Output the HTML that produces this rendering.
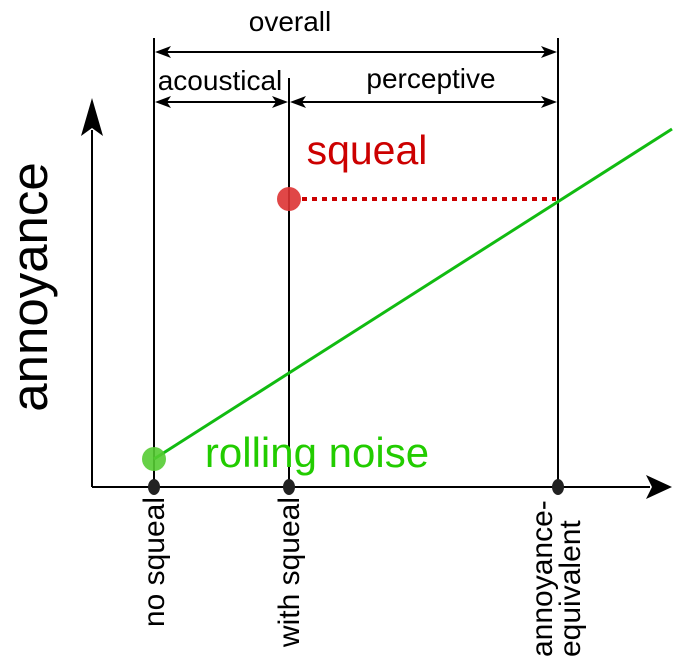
<!DOCTYPE html>
<html><head><style>html,body{margin:0;padding:0;background:#fff;}svg{display:block}</style></head>
<body>
<svg width="700" height="666" viewBox="0 0 700 666" xmlns="http://www.w3.org/2000/svg" font-family="Liberation Sans, Arial, sans-serif">
<g stroke="#000" stroke-width="2" fill="none">
<line x1="92" y1="487" x2="92" y2="130"/>
<line x1="92" y1="487" x2="650" y2="487"/>
<line x1="154" y1="38" x2="154" y2="487"/>
<line x1="289" y1="78" x2="289" y2="487"/>
<line x1="558" y1="38" x2="558" y2="487"/>
<line x1="160" y1="52" x2="552" y2="52"/>
<line x1="160" y1="102" x2="283" y2="102"/>
<line x1="295" y1="102" x2="552" y2="102"/>
</g>
<g fill="#000">
<polygon points="92,98 81,136 92,128 103,136"/>
<polygon points="672,487 646,475 652,487 646,499"/>
<polygon points="155,52 171,46 167,52 171,58"/>
<polygon points="557,52 541,46 545,52 541,58"/>
<polygon points="155,102 171,96 167,102 171,108"/>
<polygon points="288,102 272,96 276,102 272,108"/>
<polygon points="290,102 306,96 302,102 306,108"/>
<polygon points="557,102 541,96 545,102 541,108"/>
</g>
<line x1="154" y1="459" x2="672" y2="129" stroke="#11bb11" stroke-width="3"/>
<line x1="302" y1="199" x2="556" y2="199" stroke="#cc0000" stroke-width="4" stroke-dasharray="5,5"/>
<circle cx="289" cy="199" r="12" fill="#dd3333" opacity="0.9"/>
<circle cx="154" cy="459" r="12" fill="#55cc33" opacity="0.9"/>
<g fill="#222">
<ellipse cx="154" cy="487" rx="6" ry="8"/>
<ellipse cx="289" cy="487" rx="6" ry="8"/>
<ellipse cx="558" cy="487" rx="6" ry="8"/>
</g>
<g font-size="28" fill="#000">
<text x="290" y="31" text-anchor="middle">overall</text>
<text x="220" y="90" text-anchor="middle">acoustical</text>
<text x="431" y="88" text-anchor="middle">perceptive</text>
</g>
<text x="367" y="164" text-anchor="middle" font-size="41" fill="#cc0000">squeal</text>
<text x="317" y="467" text-anchor="middle" font-size="42" fill="#22cc00">rolling noise</text>
<text transform="translate(47,287) rotate(-90)" text-anchor="middle" font-size="51" fill="#000">annoyance</text>
<g font-size="30" fill="#000">
<text transform="translate(164,497) rotate(-90)" text-anchor="end">no squeal</text>
<text transform="translate(299,497) rotate(-90)" text-anchor="end">with squeal</text>
<text transform="translate(552,657) rotate(-90)" text-anchor="start">annoyance-</text>
<text transform="translate(580,657) rotate(-90)" text-anchor="start">equivalent</text>
</g>
</svg>
</body></html>
